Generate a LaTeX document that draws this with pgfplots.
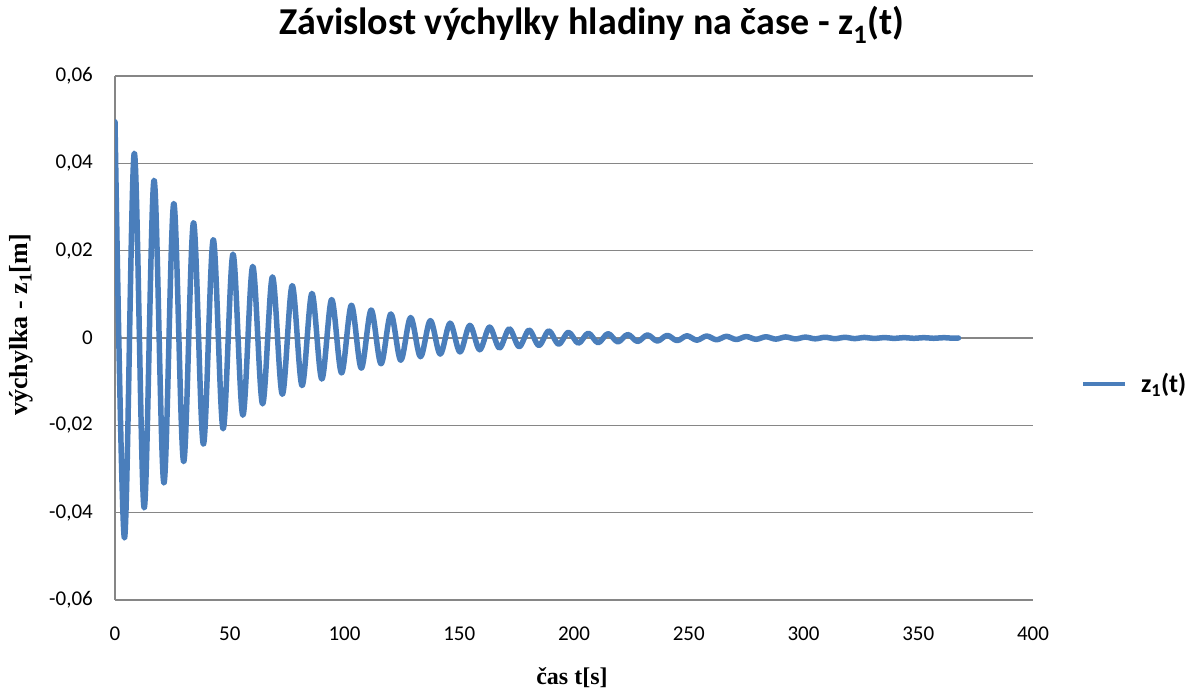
\documentclass[border=0pt]{standalone}
\usepackage{fontspec}
\setmainfont{Carlito}
\newfontfamily\serifb{Liberation Serif}
\usepackage{pgfplots}
\pgfplotsset{compat=1.18}
\usepackage{pgfplotstable}
\definecolor{zline}{HTML}{4A7EBB}
\definecolor{gridc}{HTML}{868686}

% peaks and troughs of z1(t)
\pgfplotstableread{
t z
0 0.0495
4.1 -0.0458
8.4 0.0423
12.7 -0.0389
17.0 0.0361
21.3 -0.0332
25.6 0.0308
29.9 -0.0283
34.2 0.0264
38.5 -0.0243
42.8 0.0225
47.1 -0.0208
51.4 0.0192
55.7 -0.0177
60.0 0.0164
64.3 -0.0151
68.6 0.0140
72.9 -0.0129
77.2 0.0120
81.5 -0.0109
85.8 0.0102
90.1 -0.0094
94.4 0.0088
98.7 -0.0080
103.0 0.0075
107.3 -0.0069
111.6 0.0064
115.9 -0.0059
120.2 0.0055
124.5 -0.0051
128.8 0.0047
133.1 -0.0043
137.4 0.0040
141.7 -0.0037
146.0 0.0034
150.3 -0.0032
154.6 0.0029
158.9 -0.0027
163.2 0.0025
167.5 -0.0023
171.8 0.0021
176.1 -0.0020
180.4 0.0018
184.7 -0.0017
189.0 0.0016
193.3 -0.0014
197.6 0.0013
201.9 -0.0012
206.2 0.0011
210.5 -0.0011
214.8 0.0010
219.1 -0.0009
223.4 0.0008
227.7 -0.0008
232.0 0.0007
236.3 -0.0007
240.6 0.0006
244.9 -0.0006
249.2 0.0005
253.5 -0.0005
257.8 0.00045
262.1 -0.00041
266.4 0.00038
270.7 -0.00035
275.0 0.00033
279.3 -0.00030
283.6 0.00028
287.9 -0.00026
292.2 0.00024
296.5 -0.00022
300.8 0.00020
305.1 -0.00019
309.4 0.00017
313.7 -0.00016
318.0 0.00015
322.3 -0.00014
326.6 0.00013
330.9 -0.00012
335.2 0.00011
339.5 -0.00010
343.8 0.00009
348.1 -0.00008
352.4 0.00008
356.7 -0.00007
361.0 0.00007
365.3 -0.00006
367.5 0
}\zdata

\begin{document}
\begin{tikzpicture}[x=1bp,y=1bp]
\useasboundingbox (0,0) rectangle (1192,689);
\begin{axis}[
  at={(115bp,89bp)}, anchor=south west,
  scale only axis, width=918bp, height=524bp,
  xmin=0, xmax=400, ymin=-0.06, ymax=0.06,
  scaled y ticks=false, scaled x ticks=false,
  axis lines*=left,
  axis line style={-, draw=gridc, line width=1.5bp},
  xtick={0,50,100,150,200,250,300,350,400},
  xticklabels={0,50,100,150,200,250,300,350,400},
  ytick={-0.06,-0.04,-0.02,0,0.02,0.04,0.06},
  yticklabels={{-0,06},{-0,04},{-0,02},{0},{0,02},{0,04},{0,06}},
  major tick length=0pt,
  tick style={draw=none},
  ticklabel style={font=\fontsize{21bp}{24bp}\selectfont, text=black},
  xticklabel style={anchor=north, inner sep=0pt, yshift=-27bp},
  yticklabel style={anchor=east, inner sep=0pt, xshift=-22bp},
  ymajorgrids,
  grid style={draw=gridc, line width=1.5bp},
  title={Závislost výchylky hladiny na čase - z\textsubscript{1}(t)},
  title style={at={(axis description cs:0.5196,1.0668)}, anchor=base, inner sep=0pt,
    font=\bfseries\fontsize{38bp}{42bp}\selectfont},
  xlabel={čas t[s]},
  xlabel style={at={(axis description cs:0.4978,-0.1622)}, anchor=base, inner sep=0pt,
    font=\serifb\bfseries\fontsize{24bp}{28bp}\selectfont},
  ylabel={výchylka - z\textsubscript{1}[m]},
  ylabel style={at={(axis description cs:-0.0948,0.5248)}, anchor=base, rotate=0, inner sep=0pt,
    font=\serifb\bfseries\fontsize{26bp}{30bp}\selectfont},
  legend image code/.code={\draw[#1, line width=4bp, line cap=butt] (0bp,0bp) -- (42bp,0bp);},
  legend style={at={(axis description cs:1.0523,0.4122)}, anchor=west,
    draw=none, fill=none, inner sep=0pt, outer sep=0pt,
    nodes={inner sep=0pt},
    font=\bfseries\fontsize{26bp}{30bp}\selectfont,
    /tikz/every odd column/.append style={column sep=14bp}},
]
\addplot[color=zline, line width=5.5bp, smooth, tension=0.55, line join=round, line cap=round] table[x=t, y=z] {\zdata};
\addlegendentry{z\textsubscript{1}(t)}
\end{axis}
\end{tikzpicture}
\end{document}
